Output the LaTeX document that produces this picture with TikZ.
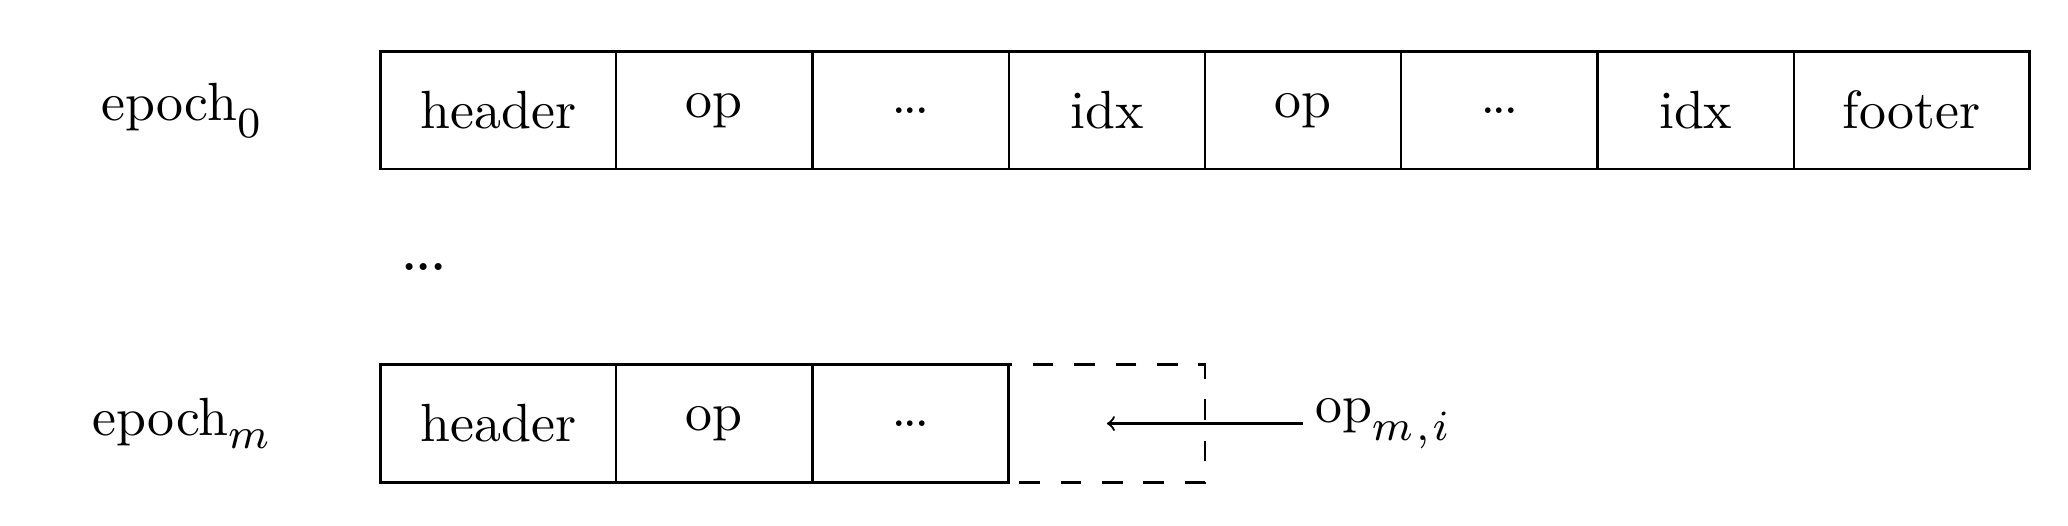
\documentclass[tikz,border=0pt]{standalone}
\usepackage{graphicx}
\usetikzlibrary{positioning}
\DeclareMathSizes{10}{10}{8.5}{6}
\newcommand\fsz{\fontsize{15.25}{18}\selectfont}
\newcommand\T[1]{\scalebox{1.56}{\fontsize{10}{12}\selectfont #1}}
\newcommand\D{\scalebox{1.05}{\fontsize{10}{12}\selectfont\bfseries ...}}
\newcommand\MD{\scalebox{1.3}{\fontsize{10}{12}\selectfont\bfseries ...}}
\tikzset{
  cell/.style={draw, line width=0.65pt, minimum height=1.2cm, minimum width=2cm,
    inner sep=0pt, outer sep=0pt, anchor=west},
  wcell/.style={cell, minimum width=2.4cm},
  dashbox/.style={cell, line width=0.7pt, dash pattern=on 6pt off 6pt, dash phase=9pt},
  frame/.style={line width=0.8pt},
  rowlabel/.style={font=\fsz},
  arr/.style={->, line width=0.65pt}
}
\begin{document}
\begin{tikzpicture}[font=\fsz]
\useasboundingbox (0,0) rectangle (21.074,-5.360);
% epoch 0
\node[rowlabel] (e0) at (1.855,-1.123) {\T{epoch$_0^{}$}};
\node[wcell] (a1) at (3.88,-1.123) {\T{header}};
\node[cell, right=0pt of a1] (a2) {\T{op}};
\node[cell, right=0pt of a2] (a3) {\D};
\node[cell, right=0pt of a3] (a4) {\T{idx}};
\node[cell, right=0pt of a4] (a5) {\T{op}};
\node[cell, right=0pt of a5] (a6) {\D};
\node[cell, right=0pt of a6] (a7) {\T{idx}};
\node[wcell, right=0pt of a7] (a8) {\T{footer}};
\draw[frame] (a1.north west) rectangle (a8.south east);
% middle dots
\node (mid) at (4.321,-2.72) {\MD};
% epoch m
\node[rowlabel] (em) at (1.855,-4.316) {\T{epoch$_m^{}$}};
\node[wcell] (b1) at (3.88,-4.316) {\T{header}};
\node[cell, right=0pt of b1] (b2) {\T{op}};
\node[cell, right=0pt of b2] (b3) {\D};
\draw[frame] (b1.north west) rectangle (b3.south east);
\node[dashbox, right=0pt of b3] (dm) {};
\node[anchor=west] (opmi) at (13.28,-4.316) {\T{op$_{m\mkern1.5mu,\mkern1.5mu i}^{}$}};
\draw[arr] (opmi.west) -- (dm.center);
\end{tikzpicture}
\end{document}
